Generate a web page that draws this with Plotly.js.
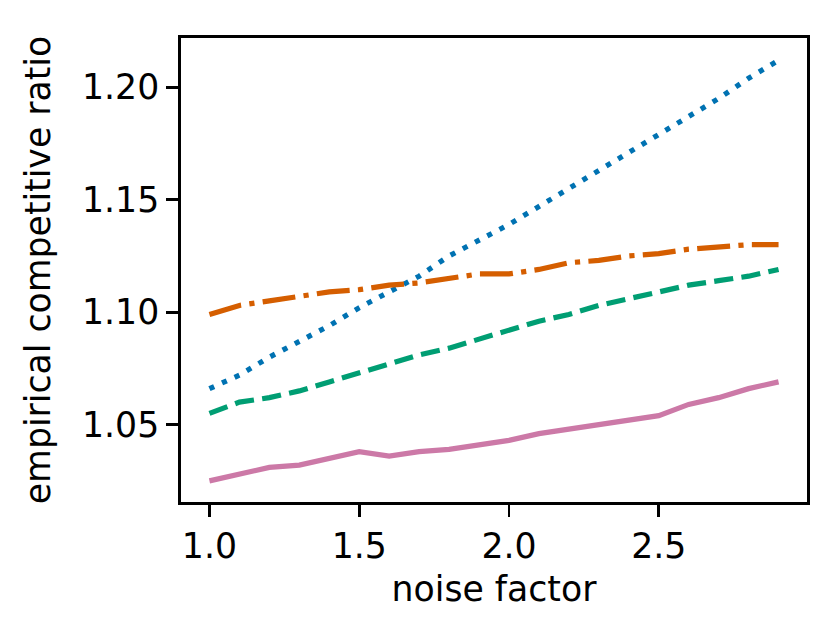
<!DOCTYPE html>
<html>
<head>
<meta charset="utf-8">
<script src="https://cdn.plot.ly/plotly-3.0.1.min.js"></script>
<style>html,body{margin:0;padding:0;background:#fff;}#chart{width:832px;height:637px;}</style>
</head>
<body>
<div id="chart"></div>
<script>
const noiseFactor = [1.0,1.1,1.2,1.3,1.4,1.5,1.6,1.7,1.8,1.9,2.0,2.1,2.2,2.3,2.4,2.5,2.6,2.7,2.8,2.9];
const seriesBlue = [1.066,1.072,1.080,1.087,1.094,1.102,1.109,1.116,1.125,1.132,1.139,1.147,1.155,1.163,1.171,1.179,1.187,1.195,1.204,1.212];
const seriesOrange = [1.099,1.103,1.105,1.107,1.109,1.110,1.112,1.113,1.115,1.117,1.117,1.119,1.122,1.123,1.125,1.126,1.128,1.129,1.130,1.130];
const seriesGreen = [1.055,1.060,1.062,1.065,1.069,1.073,1.077,1.081,1.084,1.088,1.092,1.096,1.099,1.103,1.106,1.109,1.112,1.114,1.116,1.119];
const seriesPink = [1.025,1.028,1.031,1.032,1.035,1.038,1.036,1.038,1.039,1.041,1.043,1.046,1.048,1.050,1.052,1.054,1.059,1.062,1.066,1.069];
const xTickVals = [1.0,1.5,2.0,2.5];
const xTickText = ["1.0","1.5","2.0","2.5"];
const yTickVals = [1.05,1.10,1.15,1.20];
const yTickText = ["1.05","1.10","1.15","1.20"];

const LW = 5.2;
const traces = [
  {x: noiseFactor, y: seriesBlue, mode: 'lines', line: {color: '#0072B2', width: LW, dash: '5.2px,8.6px'}},
  {x: noiseFactor, y: seriesOrange, mode: 'lines', line: {color: '#D55E00', width: LW, dash: '33px,8.3px,5.2px,8.3px'}},
  {x: noiseFactor, y: seriesGreen, mode: 'lines', line: {color: '#009E73', width: LW, dash: '19.2px,8.3px'}},
  {x: noiseFactor, y: seriesPink, mode: 'lines', line: {color: '#CC79A7', width: LW}}
];
const font = {family: 'DejaVu Sans', size: 34.7, color: '#000'};
const layout = {
  width: 832, height: 637,
  margin: {l: 181, r: 25, t: 38, b: 135, pad: 0},
  paper_bgcolor: '#fff', plot_bgcolor: '#fff',
  showlegend: false,
  font: font,
  xaxis: {
    range: [0.905, 2.995], showgrid: false, zeroline: false,
    showline: true, mirror: true, linecolor: '#000', linewidth: 2.8,
    ticks: 'outside', ticklen: 12, tickwidth: 2.8, tickcolor: '#000',
    tickvals: xTickVals, ticktext: xTickText, tickfont: font,
    title: {text: 'noise factor', font: font, standoff: 12}
  },
  yaxis: {
    range: [1.0156, 1.2219], showgrid: false, zeroline: false,
    showline: true, mirror: true, linecolor: '#000', linewidth: 2.8,
    ticks: 'outside', ticklen: 12, tickwidth: 2.8, tickcolor: '#000',
    tickvals: yTickVals, ticktext: yTickText, tickfont: font,
    title: {text: 'empirical competitive ratio', font: font, standoff: 21}
  }
};
Plotly.newPlot('chart', traces, layout, {staticPlot: true, displayModeBar: false});
</script>
</body>
</html>
